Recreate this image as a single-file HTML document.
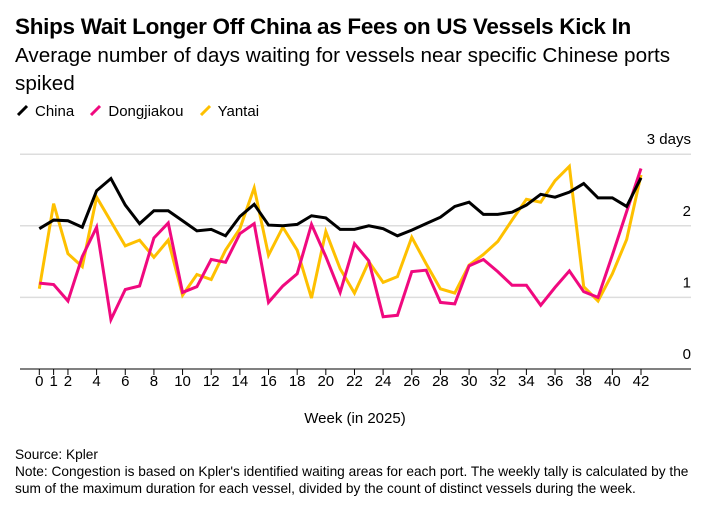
<!DOCTYPE html>
<html><head><meta charset="utf-8"><style>
body{margin:0;background:#fff;font-family:"Liberation Sans",sans-serif;color:#000}
#wrap{position:relative;width:721px;height:515px;overflow:hidden}
.t{position:absolute;white-space:nowrap}
</style></head><body>
<div id="wrap">
<div class="t" style="left:15px;top:14px;font-size:22.5px;font-weight:bold;letter-spacing:-0.3px">Ships Wait Longer Off China as Fees on US Vessels Kick In</div>
<div class="t" style="left:15px;top:42px;font-size:20.7px;line-height:28px;white-space:normal;width:680px">Average number of days waiting for vessels near specific Chinese ports spiked</div>
<div class="t" style="left:15px;top:103px;font-size:15px">
<span><svg width="20" height="12"><path d="M3 11 L12 2" stroke="#000" stroke-width="3"/></svg>China</span>
<span style="margin-left:10px"><svg width="20" height="12"><path d="M3 11 L12 2" stroke="#f0097f" stroke-width="3"/></svg>Dongjiakou</span>
<span style="margin-left:10px"><svg width="20" height="12"><path d="M3 11 L12 2" stroke="#fec000" stroke-width="3"/></svg>Yantai</span>
</div>
<svg id="plot" width="721" height="515" style="position:absolute;left:0;top:0"></svg>
<div class="t" style="left:15px;top:446px;font-size:13.7px;line-height:17px">Source: Kpler<br>Note: Congestion is based on Kpler's identified waiting areas for each port. The weekly tally is calculated by the<br>sum of the maximum duration for each vessel, divided by the count of distinct vessels during the week.</div>
</div>
<script>
const weeks=[0,1,2,3,4,5,6,7,8,9,10,11,12,13,14,15,16,17,18,19,20,21,22,23,24,25,26,27,28,29,30,31,32,33,34,35,36,37,38,39,40,41,42];
const china=[1.96,2.08,2.07,1.98,2.49,2.66,2.29,2.03,2.21,2.21,2.07,1.93,1.95,1.86,2.13,2.30,2.01,2.00,2.02,2.14,2.11,1.95,1.95,2.0,1.96,1.86,1.94,2.03,2.12,2.27,2.33,2.16,2.16,2.19,2.29,2.44,2.40,2.47,2.59,2.39,2.39,2.27,2.67];
const dongjiakou=[1.20,1.18,0.95,1.57,1.98,0.69,1.11,1.16,1.83,2.04,1.07,1.15,1.53,1.49,1.89,2.03,0.93,1.16,1.33,2.02,1.57,1.07,1.75,1.51,0.73,0.75,1.36,1.38,0.93,0.91,1.44,1.53,1.36,1.17,1.17,0.89,1.14,1.37,1.08,1.0,1.59,2.2,2.80];
const yantai=[1.12,2.31,1.61,1.43,2.40,2.06,1.72,1.80,1.56,1.80,1.03,1.32,1.25,1.66,1.96,2.53,1.59,1.98,1.66,0.99,1.92,1.40,1.06,1.50,1.21,1.29,1.84,1.47,1.12,1.06,1.45,1.60,1.78,2.08,2.37,2.33,2.63,2.83,1.15,0.95,1.33,1.81,2.71];
const yTicks=[0,1,2,3];
const xTickLabels=[0,1,2,4,6,8,10,12,14,16,18,20,22,24,26,28,30,32,34,36,38,40,42];
const NS="http://www.w3.org/2000/svg";
const svg=document.getElementById('plot');
const x=w=>39.3+w*(641-39.3)/42;
const y=v=>369-v*71.6;
function mk(t,a){const e=document.createElementNS(NS,t);for(const k in a)e.setAttribute(k,a[k]);svg.appendChild(e);return e;}
yTicks.forEach(v=>{
  if(v>0){const g=mk('line',{x1:20,x2:691,y1:y(v),y2:y(v),stroke:'#ddd','stroke-width':1.5});
  
  }
  const t=mk('text',{x:691,y:y(v)-10,'text-anchor':'end','font-size':15,'font-family':'Liberation Sans, sans-serif'});
  t.textContent=v===3?'3 days':String(v);
  
  
});
const ax=mk('line',{x1:20,x2:691,y1:369,y2:369,stroke:'#000','stroke-width':1});


xTickLabels.forEach(w=>{
  const tk=mk('line',{x1:x(w),x2:x(w),y1:369,y2:375,stroke:'#000','stroke-width':1});
  
  
  const t=mk('text',{x:x(w),y:386,'text-anchor':'middle','font-size':15,'font-family':'Liberation Sans, sans-serif'});
  t.textContent=w;
  
  
});
const xt=mk('text',{x:355,y:423,'text-anchor':'middle','font-size':15,'font-family':'Liberation Sans, sans-serif'});
xt.textContent='Week (in 2025)';


[[yantai,'#fec000','yantai-line'],[dongjiakou,'#f0097f','dongjiakou-line'],[china,'#000','china-line']].forEach(([d,c,n])=>{
  const p=mk('polyline',{points:d.map((v,i)=>x(weeks[i])+','+y(v)).join(' '),fill:'none',stroke:c,'stroke-width':3,'stroke-linejoin':'miter'});
  
  
});
</script>
</body></html>
